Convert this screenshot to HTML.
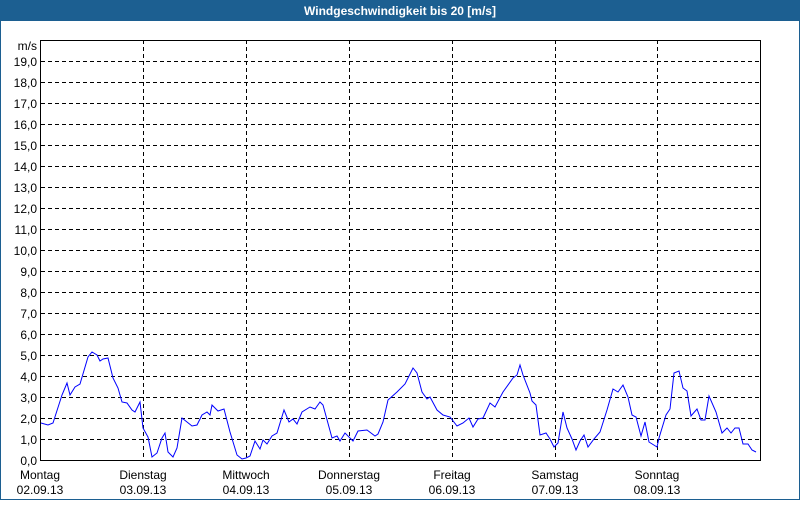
<!DOCTYPE html>
<html><head><meta charset="utf-8"><style>
html,body{margin:0;padding:0;background:#fff;}
body{width:800px;height:500px;overflow:hidden;}
</style></head><body>
<svg width="800" height="500" xmlns="http://www.w3.org/2000/svg" font-family="Liberation Sans, sans-serif" font-size="12">
<rect x="0" y="0" width="800" height="500" fill="#fff"/>
<rect x="0.5" y="0.5" width="799" height="499" fill="none" stroke="#1c5f91"/>
<rect x="0" y="0" width="800" height="21" fill="#1c5f91"/>
<text x="400" y="15" fill="#fff" font-weight="bold" text-anchor="middle">Windgeschwindigkeit bis 20 [m/s]</text>
<g stroke="#000" stroke-dasharray="4,3" stroke-width="1">
<line x1="41" x2="760" y1="61.5" y2="61.5"/><line x1="41" x2="760" y1="82.5" y2="82.5"/><line x1="41" x2="760" y1="103.5" y2="103.5"/><line x1="41" x2="760" y1="124.5" y2="124.5"/><line x1="41" x2="760" y1="145.5" y2="145.5"/><line x1="41" x2="760" y1="166.5" y2="166.5"/><line x1="41" x2="760" y1="187.5" y2="187.5"/><line x1="41" x2="760" y1="208.5" y2="208.5"/><line x1="41" x2="760" y1="229.5" y2="229.5"/><line x1="41" x2="760" y1="250.5" y2="250.5"/><line x1="41" x2="760" y1="271.5" y2="271.5"/><line x1="41" x2="760" y1="292.5" y2="292.5"/><line x1="41" x2="760" y1="313.5" y2="313.5"/><line x1="41" x2="760" y1="334.5" y2="334.5"/><line x1="41" x2="760" y1="355.5" y2="355.5"/><line x1="41" x2="760" y1="376.5" y2="376.5"/><line x1="41" x2="760" y1="397.5" y2="397.5"/><line x1="41" x2="760" y1="418.5" y2="418.5"/><line x1="41" x2="760" y1="439.5" y2="439.5"/>
<line x1="143.5" x2="143.5" y1="40" y2="460"/><line x1="246.5" x2="246.5" y1="40" y2="460"/><line x1="349.5" x2="349.5" y1="40" y2="460"/><line x1="452.5" x2="452.5" y1="40" y2="460"/><line x1="555.5" x2="555.5" y1="40" y2="460"/><line x1="657.5" x2="657.5" y1="40" y2="460"/>
</g>
<rect x="40.5" y="40.5" width="720" height="420" fill="none" stroke="#000"/>
<polyline fill="none" stroke="#0000ff" stroke-width="1" points="41,423 48,425 53,423 62,395 67,383 70,395 75,387 80,384 88,357 92,352 97,355 100,361 103,359 108,358 113,378 118,388 122,402 127,403 132,410 135,412 140,402 143,428 148,437 152,457 157,453 162,438 165,433 168,452 173,457 177,448 182,418 187,422 192,426 197,425 202,415 207,412 210,415 212,405 218,411 224,409 230,432 237,455 242,459 246,458 250,456 255,441 260,449 263,440 267,444 272,436 277,433 284,410 289,422 293,419 297,424 302,412 310,407 315,409 320,402 323,405 332,438 337,436 340,441 345,433 353,441 358,431 367,430 375,436 378,434 383,422 388,400 397,392 405,384 413,368 417,373 422,392 427,399 430,397 437,410 443,415 450,417 457,426 463,423 469,418 473,427 478,419 483,418 490,403 495,407 503,392 513,378 517,375 520,365 523,375 530,393 532,401 536,405 540,435 546,433 550,439 554,447 558,443 563,412 567,428 572,439 576,450 580,441 584,435 588,447 594,439 600,432 607,410 613,389 618,392 623,385 628,397 632,415 636,417 641,436 645,422 649,442 657,447 659,438 666,415 670,409 674,373 679,371 683,388 687,391 691,416 697,409 701,420 705,420 709,396 716,412 722,433 727,428 731,433 735,428 739,428 743,444 748,444 752,450 756,452"/>
<g text-anchor="end" fill="#000">
<text x="37" y="50">m/s</text>
<text x="37" y="66">19,0</text><text x="37" y="87">18,0</text><text x="37" y="108">17,0</text><text x="37" y="129">16,0</text><text x="37" y="150">15,0</text><text x="37" y="171">14,0</text><text x="37" y="192">13,0</text><text x="37" y="213">12,0</text><text x="37" y="234">11,0</text><text x="37" y="255">10,0</text><text x="37" y="276">9,0</text><text x="37" y="297">8,0</text><text x="37" y="318">7,0</text><text x="37" y="339">6,0</text><text x="37" y="360">5,0</text><text x="37" y="381">4,0</text><text x="37" y="402">3,0</text><text x="37" y="423">2,0</text><text x="37" y="444">1,0</text><text x="37" y="465">0,0</text>
</g>
<g text-anchor="middle" fill="#000">
<text x="40" y="479">Montag</text><text x="40" y="494">02.09.13</text>
<text x="143" y="479">Dienstag</text><text x="143" y="494">03.09.13</text>
<text x="246" y="479">Mittwoch</text><text x="246" y="494">04.09.13</text>
<text x="349" y="479">Donnerstag</text><text x="349" y="494">05.09.13</text>
<text x="452" y="479">Freitag</text><text x="452" y="494">06.09.13</text>
<text x="555" y="479">Samstag</text><text x="555" y="494">07.09.13</text>
<text x="657" y="479">Sonntag</text><text x="657" y="494">08.09.13</text>
</g>
</svg>
</body></html>
